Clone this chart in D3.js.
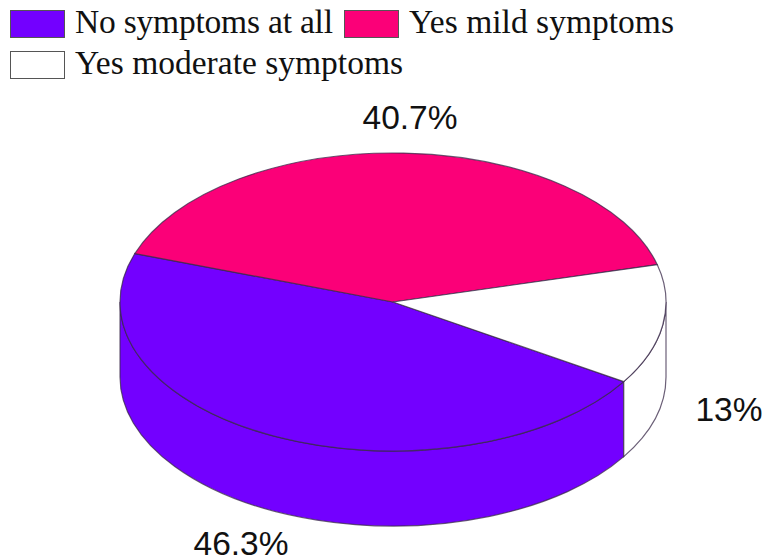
<!DOCTYPE html>
<html><head><meta charset="utf-8">
<script src="https://cdn.jsdelivr.net/npm/d3@7"></script>
<style>html,body{margin:0;padding:0;background:#fff;overflow:hidden}svg{display:block}</style>
</head><body><svg id="c" width="762" height="559"></svg>
<script>
const categories = ["No symptoms at all", "Yes mild symptoms", "Yes moderate symptoms"];
const values = [46.3, 40.7, 13];
const valueLabels = ["46.3%", "40.7%", "13%"];
const colors = ["#7300ff", "#fb0078", "#ffffff"];

const svg = d3.select("#c");
const cx = 393, cy = 302, rx = 273, ry = 149, depth = 75;
const k = ry / rx;
const start = 122.3 * Math.PI / 180;
const pie = d3.pie().sort(null).value(d => d).startAngle(start).endAngle(start + 2 * Math.PI);
const arcs = pie(values);
const arc = d3.arc().innerRadius(0).outerRadius(rx);
const g = svg.append("g").attr("transform", `translate(${cx},${cy}) scale(1,${k})`);
const stroke = "#3a2a4a";

// Side wall: only the part of each slice on the front half of the ellipse
const dz = depth / k;
const frontA = Math.PI / 2, frontB = 3 * Math.PI / 2;
arcs.forEach((d, i) => {
  [0, 2 * Math.PI].forEach(off => {
    const a0 = Math.max(d.startAngle - off, frontA), a1 = Math.min(d.endAngle - off, frontB);
    if (a1 <= a0) return;
    const p = d3.path();
    const t0 = a0 - Math.PI / 2, t1 = a1 - Math.PI / 2;
    p.arc(0, 0, rx, t0, t1, false);
    p.lineTo(rx * Math.cos(t1), rx * Math.sin(t1) + dz);
    p.arc(0, dz, rx, t1, t0, true);
    p.closePath();
    g.append("path").attr("d", p.toString()).attr("fill", colors[i])
      .attr("stroke", stroke).attr("stroke-width", 1.2).attr("stroke-opacity", .75)
      .attr("vector-effect", "non-scaling-stroke");
  });
});
// Top face
g.selectAll("path.top").data(arcs).join("path").attr("class", "top")
  .attr("d", arc).attr("fill", (d, i) => colors[i])
  .attr("stroke", stroke).attr("stroke-width", 1.2).attr("stroke-opacity", .75)
  .attr("vector-effect", "non-scaling-stroke");

// Value labels
const labelPos = [[241, 555], [410, 129], [729, 421]];
svg.selectAll("text.val").data(valueLabels).join("text").attr("class", "val")
  .attr("x", (d, i) => labelPos[i][0]).attr("y", (d, i) => labelPos[i][1])
  .attr("text-anchor", "middle").attr("font-family", "Liberation Sans").attr("font-size", 33.5)
  .attr("fill", "#111").text(d => d);

// Legend
const legendPos = [[10, 10], [344, 10], [10, 51]];
const legendTextWidth = [258, 265, 328];
const lg = svg.selectAll("g.lg").data(categories).join("g").attr("class", "lg")
  .attr("transform", (d, i) => `translate(${legendPos[i][0]},${legendPos[i][1]})`);
lg.append("rect").attr("x", .5).attr("y", .5).attr("width", 54).attr("height", 27)
  .attr("fill", (d, i) => colors[i]).attr("stroke", "#555").attr("stroke-width", 1);
lg.append("text").attr("x", 65).attr("y", 23).attr("font-family", "Liberation Serif")
  .attr("font-size", 33.5).attr("fill", "#111")
  .attr("textLength", (d, i) => legendTextWidth[i]).attr("lengthAdjust", "spacing").text(d => d);
</script></body></html>
